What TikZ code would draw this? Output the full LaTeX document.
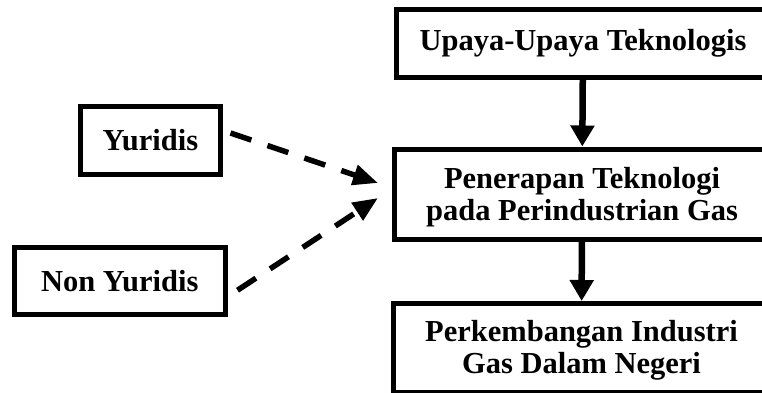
\documentclass[tikz,border=0pt]{standalone}
\usepackage{fontspec}
\setmainfont{Liberation Serif}
\usetikzlibrary{arrows.meta}

\newcommand{\atas}{\rule{0pt}{27pt}}

\begin{document}
\begin{tikzpicture}[x=1pt, y=-1pt,
  box/.style={draw, line width=5pt, align=center, inner sep=0pt,
    font=\bfseries\fontsize{30.5}{32}\selectfont},
  flow/.style={line width=6.5pt, -{Triangle[length=21pt, width=23pt]}},
  influence/.style={line width=5.5pt, dash pattern=on 22pt off 17pt,
    -{Triangle[length=25pt, width=20pt]}}]
  \useasboundingbox (0,0) rectangle (762,393);
  \clip (0,0) rectangle (762,393);
  % main column
  \node[box, minimum width=373.5pt, minimum height=67.5pt] (upaya) at (583,43.75) {Upaya-Upaya Teknologis};
  \node[box, minimum width=375.5pt, minimum height=90.5pt] (terap) at (582,194.25) {\atas Penerapan Teknologi\\pada Perindustrian Gas};
  \node[box, minimum width=377pt, minimum height=88.5pt] (kembang) at (581.5,347.75) {\atas Perkembangan Industri\\Gas Dalam Negeri};
  % side factors
  \node[box, minimum width=140pt, minimum height=67pt] (yuridis) at (150.5,140.5) {Yuridis};
  \node[box, minimum width=211.5pt, minimum height=67.5pt] (nonyuridis) at (119.75,280.75) {Non Yuridis};
  \coordinate (tipatas) at (378,183);
  \coordinate (tipbawah) at (378,198);
  \draw[flow] (upaya) -- (terap);
  \draw[flow] (terap) -- (kembang);
  \draw[influence] ([shift={(7.5,-7.5)}]yuridis.east) -- (tipatas);
  \draw[influence] ([shift={(9.5,9.5)}]nonyuridis.east) -- (tipbawah);
\end{tikzpicture}
\end{document}
